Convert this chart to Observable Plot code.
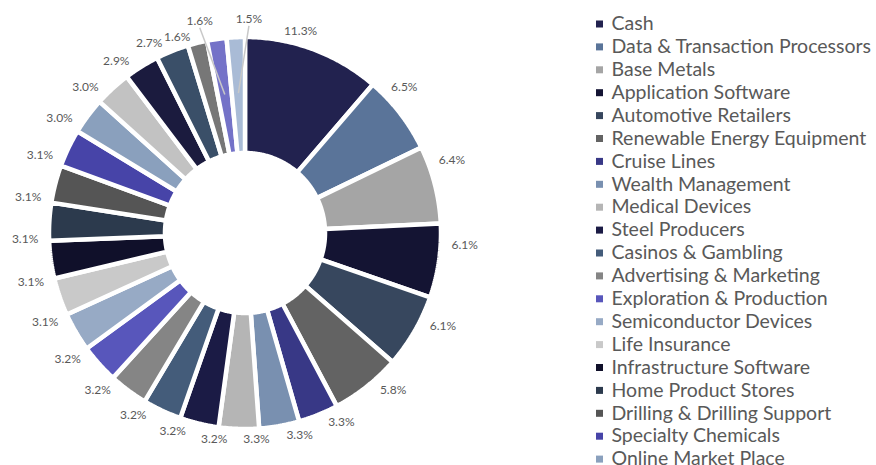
<!DOCTYPE html>
<html><head><meta charset="utf-8">
<script src="https://cdn.jsdelivr.net/npm/d3@7"></script>
<script src="https://cdn.jsdelivr.net/npm/@observablehq/plot@0.6"></script>
<style>body{margin:0;background:#fff;overflow:hidden}</style>
</head><body><div id="chart"></div>
<script>
// Legend categories (the reference legend lists only the first 20 of 26 slices)
const categories = [
  "Cash", "Data & Transaction Processors", "Base Metals", "Application Software",
  "Automotive Retailers", "Renewable Energy Equipment", "Cruise Lines", "Wealth Management",
  "Medical Devices", "Steel Producers", "Casinos & Gambling", "Advertising & Marketing",
  "Exploration & Production", "Semiconductor Devices", "Life Insurance", "Infrastructure Software",
  "Home Product Stores", "Drilling & Drilling Support", "Specialty Chemicals", "Online Market Place"
];
// Slice values (%), clockwise from 12 o'clock
const values = [11.3, 6.5, 6.4, 6.1, 6.1, 5.8, 3.3, 3.3, 3.3, 3.2, 3.2, 3.2, 3.2, 3.2,
  3.1, 3.1, 3.1, 3.1, 3.1, 3.0, 3.0, 2.9, 2.7, 1.6, 1.6, 1.5];
const colors = [
  "#22224f", "#5a7499", "#a5a5a5", "#141433", "#37475e", "#636363",
  "#383886", "#7990b0", "#b5b5b5", "#1b1b45", "#445c7a", "#858585",
  "#5856bb", "#97aac5", "#c9c9c9", "#10102a", "#2c3a4d", "#555555",
  "#4744a8", "#8aa0bd", "#c2c2c2", "#1b1b3e", "#3a4f68", "#777777",
  "#7472c8", "#a9bbd6"
];
const labels = values.map(v => v.toFixed(1) + "%");

const W = 876, H = 465;
const cx = 244.5, cy = 232.5, R = 196, R0 = 80;
const deg = Math.PI / 180;
const total = d3.sum(values);

let acc = 0;
const slices = values.map((v, i) => {
  const a0 = acc / total * 2 * Math.PI; acc += v;
  const a1 = acc / total * 2 * Math.PI;
  const n = Math.max(4, Math.ceil((a1 - a0) / 0.01));
  const pts = [];
  for (let k = 0; k <= n; k++) { const a = a0 + (a1 - a0) * k / n; pts.push({x: cx + R * Math.sin(a), y: cy - R * Math.cos(a)}); }
  for (let k = n; k >= 0; k--) { const a = a0 + (a1 - a0) * k / n; pts.push({x: cx + R0 * Math.sin(a), y: cy - R0 * Math.cos(a)}); }
  return {i, v, a0, a1, pts};
});

// label placement: outside the ring; tiny slices after the first are lifted, spread and get leader lines
const firstSmall = values.findIndex(v => v < 2);
const liftedIdx = slices.filter(s => s.v < 2 && s.i !== firstSmall).map(s => s.i);
const labelData = slices.map(s => {
  const small = s.v < 2;
  const mid = (s.a0 + s.a1) / 2;
  const j = liftedIdx.indexOf(s.i);
  const lifted = j >= 0;
  const a = lifted ? mid + (j - (liftedIdx.length - 1) / 2) * 7.5 * deg : mid - 5 * deg;
  const r = 206 + 14 * Math.abs(Math.sin(a)) + (small ? (lifted ? 8 : -3) : 0);
  return {x: cx + r * Math.sin(a), y: cy - r * Math.cos(a), text: labels[s.i], lifted,
    lx: cx + 140 * Math.sin(mid), ly: cy - 140 * Math.cos(mid)};
});
const leaders = labelData.filter(d => d.lifted);

const legendData = categories.map((c, i) => ({c, i, y: 23.5 + i * 22.9}));

const chart = Plot.plot({
  width: W, height: H,
  margin: 0,
  x: {domain: [0, W], range: [0, W], axis: null},
  y: {domain: [0, H], range: [0, H], axis: null},
  style: {fontFamily: "Lato, sans-serif", background: "#fff"},
  marks: [
    ...slices.map(s => Plot.line(s.pts, {
      x: "x", y: "y", fill: colors[s.i], stroke: "white", strokeWidth: 4.5,
      strokeLinejoin: "miter", curve: "linear-closed"
    })),
    Plot.link(leaders, {x1: "x", y1: d => d.y + 7, x2: "lx", y2: "ly", stroke: "#c8c8c8", strokeWidth: 1.5}),
    Plot.text(labelData, {x: "x", y: "y", text: "text", fontSize: 12, fill: "#595959"}),
    Plot.rect(legendData, {x1: 596, x2: 603, y1: d => d.y - 3, y2: d => d.y + 4, fill: d => colors[d.i]}),
    Plot.text(legendData, {x: 611, y: "y", text: "c", textAnchor: "start", fontSize: 19.5, fill: "#595959"})
  ]
});
document.getElementById("chart").append(chart);
</script>
</body></html>
